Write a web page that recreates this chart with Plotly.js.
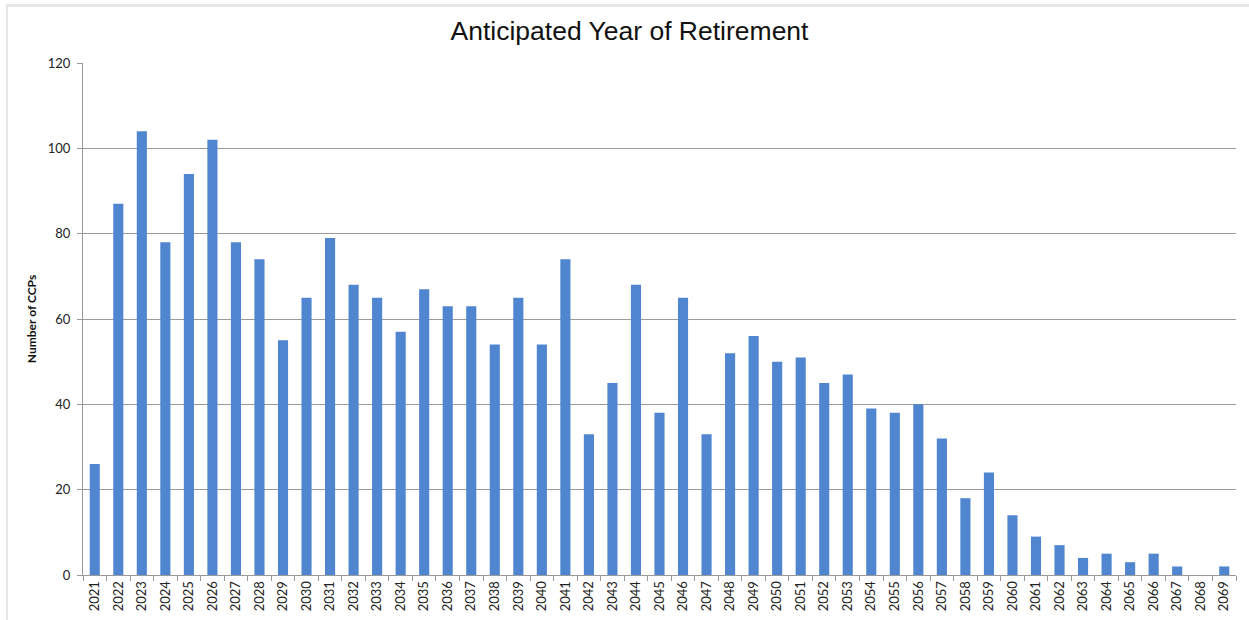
<!DOCTYPE html>
<html>
<head>
<meta charset="utf-8">
<script src="https://cdn.plot.ly/plotly-3.0.1.min.js"></script>
<style>
  html, body { margin: 0; padding: 0; background: #fff; }
  #chart { width: 1249px; height: 620px; position: absolute; left: 0; top: 0; }
  #frame { position: absolute; left: 6px; top: 4px; width: 1243px; height: 616px;
           border-left: 2px solid #e6e6e6; border-top: 3px solid #e6e6e6; pointer-events: none; }
</style>
</head>
<body>
<div id="chart"></div>
<div id="frame"></div>
<script>
const years = ["2021","2022","2023","2024","2025","2026","2027","2028","2029","2030",
  "2031","2032","2033","2034","2035","2036","2037","2038","2039","2040",
  "2041","2042","2043","2044","2045","2046","2047","2048","2049","2050",
  "2051","2052","2053","2054","2055","2056","2057","2058","2059","2060",
  "2061","2062","2063","2064","2065","2066","2067","2068","2069"];
const counts = [26,87,104,78,94,102,78,74,55,65,
  79,68,65,57,67,63,63,54,65,54,
  74,33,45,68,38,65,33,52,56,50,
  51,45,47,39,38,40,32,18,24,14,
  9,7,4,5,3,5,2,0,2];
const yTicks = [0,20,40,60,80,100,120];

const trace = {
  type: 'bar',
  x: years,
  y: counts,
  marker: { color: '#4f86cf' },
  hoverinfo: 'x+y'
};

const layout = {
  width: 1249, height: 620,
  margin: { l: 83, r: 13, t: 63, b: 45 },
  paper_bgcolor: '#ffffff',
  plot_bgcolor: '#ffffff',
  bargap: 0.57,
  showlegend: false,
  title: {
    text: 'Anticipated Year of Retirement',
    font: { family: 'Liberation Sans, Arial, sans-serif', size: 26.5, color: '#111' },
    x: 0.504, xanchor: 'center', y: 0.95, yanchor: 'middle'
  },
  xaxis: {
    type: 'category',
    tickangle: -90,
    tickson: 'boundaries',
    ticks: 'outside', ticklen: 5, tickcolor: '#999',
    showline: true, linecolor: '#999', linewidth: 1,
    showgrid: false,
    tickfont: { family: 'Lato, Open Sans, sans-serif', size: 13, color: '#222' }
  },
  yaxis: {
    range: [0, 120],
    tickvals: yTicks,
    ticktext: yTicks.map(String),
    ticks: 'outside', ticklen: 5, tickcolor: '#999',
    ticklabelstandoff: 4,
    showline: true, linecolor: '#999', linewidth: 1,
    showgrid: true, gridcolor: '#9a9a9a', gridwidth: 1,
    zeroline: false,
    tickfont: { family: 'Lato, Open Sans, sans-serif', size: 13, color: '#222' },
    title: {
      text: '<b>Number of CCPs</b>',
      font: { family: 'Lato, Open Sans, sans-serif', size: 12, color: '#111' },
      standoff: 8
    }
  }
};

Plotly.newPlot('chart', [trace], layout, { displayModeBar: false, staticPlot: true });
</script>
</body>
</html>
